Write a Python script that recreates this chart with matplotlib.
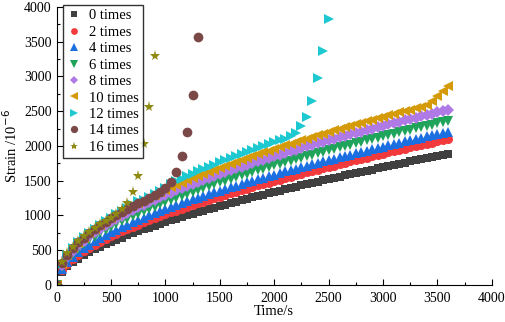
import matplotlib
matplotlib.use('Agg')
import matplotlib.pyplot as plt
from matplotlib.ticker import MultipleLocator

plt.rcParams['font.family'] = ['Liberation Serif', 'DejaVu Serif']

# sample times (every 50 s)
time_s = list(range(0, 3650, 50))

# strain values, 10^-6
strain_0 = [0, 183, 262, 323, 376, 423, 467, 507, 544, 580, 614, 647, 678, 709, 738, 767,
            795, 822, 848, 874, 900, 925, 949, 973, 997, 1020, 1043, 1065, 1088, 1110, 1131,
            1153, 1174, 1194, 1215, 1236, 1256, 1276, 1296, 1315, 1335, 1354, 1373, 1392,
            1411, 1429, 1448, 1466, 1484, 1502, 1520, 1538, 1555, 1573, 1590, 1608, 1625,
            1642, 1659, 1676, 1693, 1710, 1726, 1743, 1759, 1775, 1792, 1808, 1824, 1840,
            1856, 1872, 1888]
strain_2 = [0, 208, 298, 367, 427, 480, 529, 574, 616, 656, 694, 731, 766, 800, 833, 865,
            896, 926, 956, 984, 1013, 1040, 1067, 1094, 1120, 1146, 1171, 1196, 1221, 1245,
            1269, 1293, 1316, 1339, 1362, 1384, 1407, 1429, 1451, 1472, 1494, 1515, 1536,
            1557, 1577, 1598, 1618, 1638, 1658, 1678, 1698, 1717, 1736, 1756, 1775, 1794,
            1813, 1831, 1850, 1869, 1887, 1905, 1924, 1942, 1960, 1977, 1995, 2013, 2031,
            2048, 2065, 2083, 2100]
strain_4 = [0, 229, 326, 402, 466, 524, 576, 624, 669, 712, 753, 791, 829, 865, 899, 933,
            966, 998, 1029, 1059, 1088, 1117, 1146, 1174, 1201, 1228, 1254, 1280, 1306, 1331,
            1356, 1380, 1404, 1428, 1452, 1475, 1498, 1521, 1543, 1565, 1587, 1609, 1631,
            1652, 1673, 1694, 1715, 1735, 1756, 1776, 1796, 1816, 1836, 1856, 1875, 1894,
            1914, 1933, 1952, 1970, 1989, 2008, 2026, 2045, 2063, 2081, 2099, 2117, 2135,
            2152, 2170, 2187, 2205]
strain_6 = [0, 256, 364, 447, 518, 580, 637, 690, 739, 785, 829, 871, 912, 950, 988, 1024,
            1059, 1093, 1126, 1159, 1190, 1221, 1251, 1281, 1310, 1339, 1367, 1394, 1421,
            1448, 1474, 1500, 1526, 1551, 1576, 1600, 1624, 1648, 1672, 1695, 1718, 1741,
            1764, 1786, 1808, 1830, 1852, 1874, 1895, 1916, 1937, 1958, 1978, 1999, 2019,
            2039, 2059, 2079, 2099, 2118, 2138, 2157, 2176, 2195, 2214, 2232, 2251, 2270,
            2288, 2306, 2324, 2342, 2360]
strain_8 = [0, 282, 400, 491, 568, 636, 698, 755, 808, 858, 906, 951, 994, 1036, 1076, 1115,
            1152, 1189, 1224, 1259, 1292, 1325, 1358, 1389, 1420, 1450, 1480, 1509, 1538,
            1566, 1594, 1621, 1648, 1675, 1701, 1727, 1752, 1777, 1802, 1827, 1851, 1875,
            1899, 1922, 1945, 1968, 1991, 2014, 2036, 2058, 2080, 2102, 2123, 2144, 2166,
            2187, 2207, 2228, 2248, 2269, 2289, 2309, 2329, 2348, 2368, 2387, 2407, 2426,
            2445, 2464, 2483, 2501, 2520]
strain_10 = [0, 300, 425, 522, 604, 676, 741, 802, 858, 911, 961, 1009, 1055, 1099, 1141,
             1182, 1222, 1260, 1298, 1334, 1370, 1404, 1438, 1472, 1504, 1536, 1568, 1598,
             1629, 1658, 1688, 1716, 1745, 1773, 1800, 1827, 1854, 1881, 1907, 1933, 1958,
             1984, 2009, 2033, 2058, 2082, 2106, 2129, 2153, 2176, 2199, 2222, 2244, 2267,
             2289, 2311, 2333, 2354, 2376, 2397, 2418, 2439, 2460, 2481, 2501, 2522, 2542,
             2560, 2595, 2645, 2715, 2790, 2860]
strain_12 = [0, 302, 428, 526, 608, 680, 746, 807, 864, 917, 967, 1016, 1063, 1109, 1155,
             1199, 1225, 1265, 1305, 1345, 1395, 1450, 1492, 1529, 1565, 1599, 1633, 1666,
             1698, 1730, 1761, 1792, 1822, 1852, 1882, 1911, 1940, 1968, 1996, 2024, 2051,
             2079, 2106, 2140, 2190, 2290, 2420, 2640, 2980, 3370, 3830]
strain_14 = [0, 305, 430, 527, 608, 678, 742, 801, 856, 908, 957, 1004, 1048, 1091, 1133,
             1172, 1210, 1248, 1288, 1330, 1395, 1480, 1620, 1855, 2195, 2735, 3570]
strain_16 = [0, 330, 450, 545, 625, 695, 758, 815, 868, 918, 965, 1015, 1085, 1180, 1335,
             1570, 2020, 2560, 3300]

series = [
    ('0 times', strain_0, 's', '#404040', 6),
    ('2 times', strain_2, 'o', '#f23a3c', 6.5),
    ('4 times', strain_4, '^', '#1c6fe0', 7),
    ('6 times', strain_6, 'v', '#20a35a', 7),
    ('8 times', strain_8, 'D', '#b07ae6', 6),
    ('10 times', strain_10, '<', '#d49a08', 7),
    ('12 times', strain_12, '>', '#1ec8d0', 7),
    ('14 times', strain_14, 'o', '#7b4848', 7),
    ('16 times', strain_16, '*', '#8e8a12', 8),
]

fig = plt.figure(figsize=(5.05, 3.22), dpi=100)
ax = fig.add_axes([0.112, 0.116, 0.862, 0.862])

for label, vals, marker, color, ms in series:
    ax.plot(time_s[:len(vals)], vals, linestyle='none', marker=marker, color=color,
            markersize=ms, markeredgewidth=0, label=label)

ax.set_xlim(0, 4000)
ax.set_ylim(0, 4000)
ax.xaxis.set_major_locator(MultipleLocator(500))
ax.yaxis.set_major_locator(MultipleLocator(500))
ax.xaxis.set_minor_locator(MultipleLocator(250))
ax.yaxis.set_minor_locator(MultipleLocator(250))
ax.tick_params(which='both', direction='in', labelsize=10, width=0.8)
ax.tick_params(which='major', length=4)
ax.tick_params(which='minor', length=2)
ax.tick_params(axis='x', pad=5)
for side in ['top', 'right']:
    ax.spines[side].set_visible(False)

ax.set_xlabel('Time/s', fontsize=10.5, labelpad=0)
ax.set_ylabel('Strain /10$^{-6}$', fontsize=10.5, labelpad=3)

leg = ax.legend(loc='upper left', bbox_to_anchor=(0.015, 1.008), fontsize=10.5,
                frameon=True, fancybox=False, edgecolor='black', borderaxespad=0,
                handlelength=0.9, handletextpad=0.6, labelspacing=0.22,
                borderpad=0.3, markerscale=0.75)
leg.get_frame().set_linewidth(1.0)

fig.savefig('out.png', dpi=100)
